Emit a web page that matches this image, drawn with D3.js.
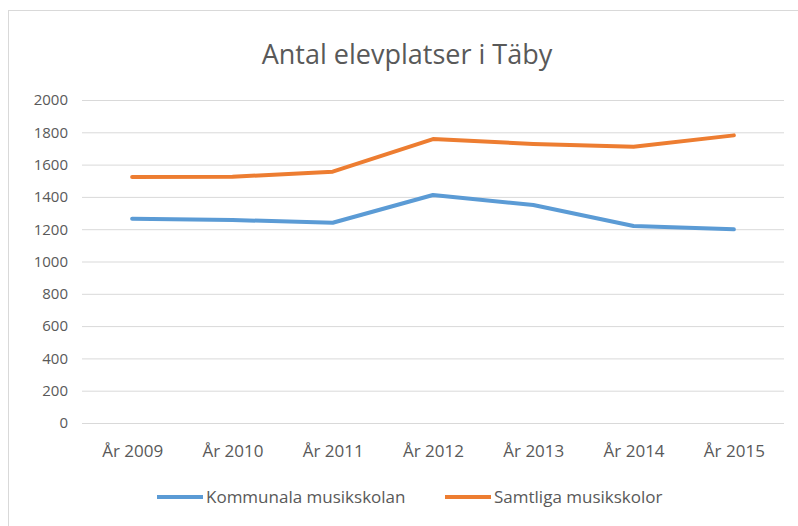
<!DOCTYPE html>
<html><head><meta charset="utf-8">
<script src="https://cdn.jsdelivr.net/npm/d3@7"></script>
<style>body{margin:0;background:#fff;} svg{display:block;}</style>
</head><body>
<svg id="c" width="798" height="526"></svg>
<script>
const categories = ["År 2009","År 2010","År 2011","År 2012","År 2013","År 2014","År 2015"];
const kommunala = [1265, 1257, 1240, 1412, 1350, 1220, 1199];
const samtliga = [1523, 1525, 1556, 1758, 1728, 1711, 1781];
const yTicks = [0,200,400,600,800,1000,1200,1400,1600,1800,2000];
const seriesNames = ["Kommunala musikskolan","Samtliga musikskolor"];
const colors = ["#5B9BD5","#ED7D31"];

const svg = d3.select("#c");
const font = "'Open Sans', sans-serif";
svg.append("rect").attr("x",8.5).attr("y",10.5).attr("width",800).attr("height",530)
  .attr("fill","#fff").attr("stroke","#D9D9D9");

const m = {l:82, r:784, t:100, b:423};
const x = d3.scalePoint().domain(categories).range([m.l, m.r]).padding(0.5);
const y = d3.scaleLinear().domain([0,2000]).range([m.b, m.t]);

svg.append("text").attr("x",407).attr("y",64).attr("text-anchor","middle")
  .attr("font-family",font).attr("font-size",27).attr("fill","#595959")
  .text("Antal elevplatser i Täby");

const ya = svg.append("g").attr("transform",`translate(${m.l},0)`)
  .call(d3.axisLeft(y).tickValues(yTicks).tickSize(-(m.r-m.l)).tickPadding(14).tickFormat(d3.format("d")));
ya.select(".domain").remove();
ya.selectAll("line").attr("stroke","#D9D9D9");
ya.selectAll("text").attr("font-family",font).attr("font-size",15).attr("fill","#595959");

const xa = svg.append("g").attr("transform",`translate(0,${m.b})`)
  .call(d3.axisBottom(x).tickSize(0).tickPadding(22));
xa.select(".domain").remove();
xa.selectAll("text").attr("font-family",font).attr("font-size",17).attr("fill","#595959");

const line = d3.line().x((d,i)=>x(categories[i])).y(d=>y(d));
[kommunala, samtliga].forEach((s,i)=>{
  svg.append("path").datum(s).attr("d",line).attr("fill","none")
    .attr("stroke",colors[i]).attr("stroke-width",4).attr("stroke-linejoin","round").attr("stroke-linecap","round");
});

const legX = [157, 445];
seriesNames.forEach((n,i)=>{
  const g = svg.append("g").attr("transform",`translate(${legX[i]},497)`);
  g.append("line").attr("x1",0).attr("x2",46).attr("y1",0).attr("y2",0)
    .attr("stroke",colors[i]).attr("stroke-width",4);
  g.append("text").attr("x",49).attr("y",6).attr("font-family",font).attr("font-size",17)
    .attr("fill","#595959").text(n);
});
</script>
</body></html>
